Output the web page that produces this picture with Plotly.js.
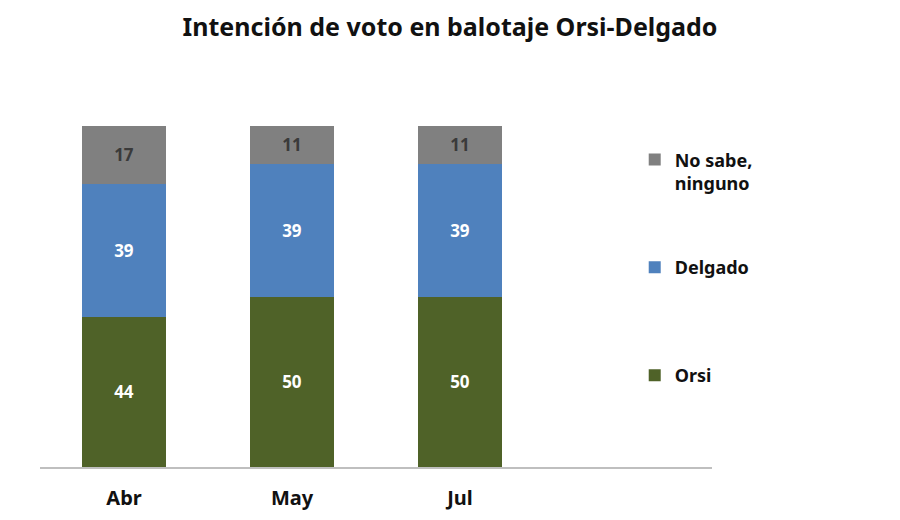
<!DOCTYPE html>
<html><head><meta charset="utf-8">
<script src="https://cdn.plot.ly/plotly-3.0.1.min.js"></script>
<style>body{margin:0;background:#fff}#c{width:900px;height:520px}</style>
</head><body><div id="c"></div>
<script>
const months = ["Abr", "May", "Jul"];
const orsi = [44, 50, 50];
const delgado = [39, 39, 39];
const noSabe = [17, 11, 11];
const seriesNames = ["Orsi", "Delgado<br>&nbsp;", "No sabe,<br>ninguno"];

const font = "'Noto Sans', Lato, sans-serif";
function tr(name, y, color, txtColor, group, rank) {
  return {
    type: "bar", x: months, y: y, name: name, legendgroup: group, legendrank: rank,
    marker: {color: color, line: {width: 0}},
    text: y.map(String), textposition: "inside", insidetextanchor: "middle",
    textfont: {family: font, size: 17, color: txtColor, weight: 700},
    hoverinfo: "skip", width: 0.505
  };
}
const data = [
  tr(seriesNames[0], orsi, "#4F6228", "#ffffff", "a", 3),
  tr(seriesNames[1], delgado, "#4F81BD", "#ffffff", "b", 2),
  tr(seriesNames[2], noSabe, "#808080", "#3a3a3a", "c", 1)
];
const layout = {
  width: 900, height: 520, barmode: "stack",
  margin: {l: 40, r: 188, t: 126, b: 53},
  paper_bgcolor: "#fff", plot_bgcolor: "#fff",
  title: {text: "<b>Intención de voto en balotaje Orsi-Delgado</b>", x: 0.5, xref: "container", xanchor: "center", y: 0.947, yanchor: "middle",
    font: {family: font, size: 25, color: "#111"}},
  xaxis: {type: "category", range: [-0.5, 3.5], showgrid: false, showline: true, linecolor: "#BFBFBF", linewidth: 1.5,
    ticks: "", tickfont: {family: font, size: 20, color: "#111", weight: 700}, ticklabelstandoff: 12},
  yaxis: {range: [0, 100], visible: false, showgrid: false, zeroline: false},
  showlegend: true,
  legend: {x: 0.885, xanchor: "left", y: 0.955, yanchor: "top", traceorder: "grouped", tracegroupgap: 58, valign: "top",
    font: {family: font, size: 18, color: "#111", weight: 700}, itemwidth: 30, bgcolor: "rgba(0,0,0,0)"}
};
Plotly.newPlot("c", data, layout, {displayModeBar: false, staticPlot: true});
</script></body></html>
